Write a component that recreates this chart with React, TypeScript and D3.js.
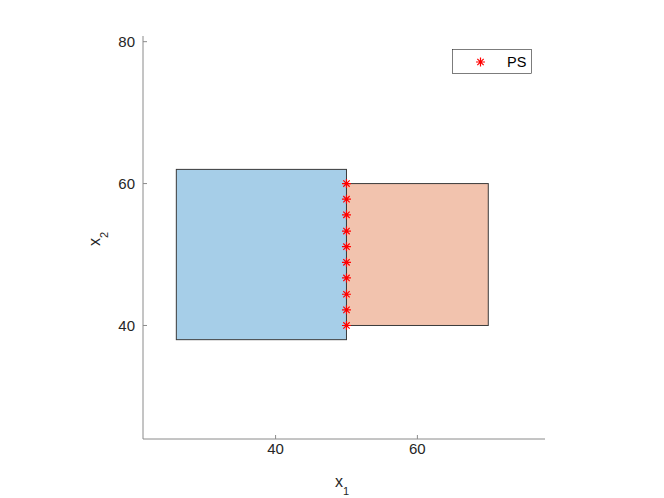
import React from "react";
import * as d3 from "d3";

// region boxes (decision space)
const regionNames = ["left", "right"];
const regionX0 = [26, 50];
const regionX1 = [50, 70];
const regionY0 = [38, 40];
const regionY1 = [62, 60];
const regionColors = ["#A6CEE8", "#F2C3AE"];

// PS points
const psX = [50, 50, 50, 50, 50, 50, 50, 50, 50, 50];
const psY = [40, 42.2, 44.4, 46.7, 48.9, 51.1, 53.3, 55.6, 57.8, 60];

const xTicks = [40, 60];
const yTicks = [40, 60, 80];

const W = 664;
const H = 498;
const plot = { left: 143, right: 545, top: 36, bottom: 439 };
const font = "'Liberation Sans', Arial, Helvetica, sans-serif";
const axisColor = "#8a8a8a";
const textColor = "#262626";

const Asterisk = ({ cx, cy, r }: { cx: number; cy: number; r: number }) => {
  const d = r * 0.707;
  return (
    <path
      d={`M${cx - r},${cy}H${cx + r}M${cx},${cy - r}V${cy + r}M${cx - d},${cy - d}L${cx + d},${cy + d}M${cx - d},${cy + d}L${cx + d},${cy - d}`}
      stroke="#ff0000"
      strokeWidth={1.2}
      fill="none"
    />
  );
};

const App = () => {
  const x = d3.scaleLinear().domain([21.3, 78]).range([plot.left, plot.right]);
  const y = d3.scaleLinear().domain([24, 80.8]).range([plot.bottom, plot.top]);

  return (
    <svg
      width={W}
      height={H}
      style={{ position: "absolute", left: 0, top: 0, background: "#fff" }}
      fontFamily={font}
    >
      {/* regions */}
      {regionNames.map((n, i) => (
        <rect
          key={n}
          x={x(regionX0[i])}
          y={y(regionY1[i])}
          width={x(regionX1[i]) - x(regionX0[i])}
          height={y(regionY0[i]) - y(regionY1[i])}
          fill={regionColors[i]}
          stroke="#3a3a3a"
          strokeWidth={1}
        />
      ))}

      {/* PS points */}
      {psX.map((v, i) => (
        <Asterisk key={i} cx={x(v)} cy={y(psY[i])} r={4.5} />
      ))}

      {/* axes */}
      <line x1={plot.left} x2={plot.right} y1={plot.bottom} y2={plot.bottom} stroke={axisColor} />
      <line x1={plot.left} x2={plot.left} y1={plot.top} y2={plot.bottom} stroke={axisColor} />
      {xTicks.map((t) => (
        <g key={t}>
          <line x1={x(t)} x2={x(t)} y1={plot.bottom} y2={plot.bottom - 4} stroke={axisColor} />
          <text x={x(t)} y={454} textAnchor="middle" fontSize={15} fill={textColor}>
            {t}
          </text>
        </g>
      ))}
      {yTicks.map((t) => (
        <g key={t}>
          <line x1={plot.left} x2={plot.left + 4} y1={y(t)} y2={y(t)} stroke={axisColor} />
          <text x={135} y={y(t)} dy="0.35em" textAnchor="end" fontSize={15} fill={textColor}>
            {t}
          </text>
        </g>
      ))}

      {/* axis labels */}
      <text x={335} y={487} fontSize={16} fill={textColor}>
        x<tspan fontSize={11} dy={8}>1</tspan>
      </text>
      <text transform="translate(100,239) rotate(-90)" textAnchor="middle" fontSize={16} fill={textColor}>
        x<tspan fontSize={11} dy={8}>2</tspan>
      </text>

      {/* legend */}
      <rect x={452.5} y={49.5} width={79} height={24} fill="#fff" stroke="#262626" strokeWidth={0.6} />
      <Asterisk cx={480.5} cy={62} r={4.5} />
      <text x={507} y={67} fontSize={14.5} fill="#000">
        PS
      </text>
    </svg>
  );
};

export default App;
